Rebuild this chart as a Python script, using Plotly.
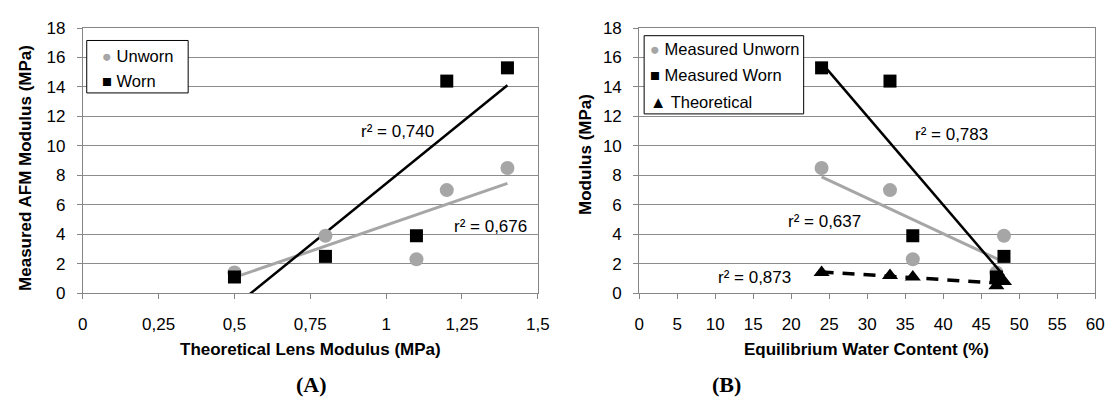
import numpy as np
import plotly.graph_objects as go

# ---------------- data ----------------
theo_modulus = [0.5, 0.8, 1.1, 1.2, 1.4]
ewc = [47, 48, 36, 33, 24]
unworn = [1.4, 3.9, 2.3, 7.0, 8.5]
worn = [1.1, 2.5, 3.9, 14.4, 15.3]
theoretical = [0.5, 0.8, 1.1, 1.2, 1.4]

legend_a = ["Unworn", "Worn"]
legend_b = ["Measured Unworn", "Measured Worn", "Theoretical"]
r2_labels_a = ["r² = 0,740", "r² = 0,676"]
r2_labels_b = ["r² = 0,783", "r² = 0,637", "r² = 0,873"]

xa_tickvals = [0, 0.25, 0.5, 0.75, 1, 1.25, 1.5]
xa_ticktext = ["0", "0,25", "0,5", "0,75", "1", "1,25", "1,5"]
xb_tickvals = list(range(0, 61, 5))
y_tickvals = list(range(0, 19, 2))

GREY = "#a6a6a6"
FONT = "Liberation Sans, Arial, sans-serif"
SERIF = "Liberation Serif, Times New Roman, serif"
FS = 17
LFS = 16.5


def fit_line(x, y):
    x = np.asarray(x, float)
    y = np.asarray(y, float)
    k, b = np.polyfit(x, y, 1)
    xs = np.array([x.min(), x.max()])
    return xs, k * xs + b


fig = go.Figure()

# ---------- chart A ----------
xs, ys = fit_line(theo_modulus, unworn)
fig.add_trace(go.Scatter(x=xs, y=ys, mode="lines", line=dict(color=GREY, width=3),
                         showlegend=False, xaxis="x", yaxis="y", hoverinfo="skip"))
xs, ys = fit_line(theo_modulus, worn)
fig.add_trace(go.Scatter(x=xs, y=ys, mode="lines", line=dict(color="black", width=2.5),
                         showlegend=False, xaxis="x", yaxis="y", hoverinfo="skip"))
fig.add_trace(go.Scatter(x=theo_modulus, y=unworn, mode="markers", name=legend_a[0],
                         marker=dict(symbol="circle", size=14, color=GREY), showlegend=False,
                         xaxis="x", yaxis="y", cliponaxis=False))
fig.add_trace(go.Scatter(x=theo_modulus, y=worn, mode="markers", name=legend_a[1],
                         marker=dict(symbol="square", size=13, color="black"), showlegend=False,
                         xaxis="x", yaxis="y", cliponaxis=False))

# ---------- chart B ----------
xs, ys = fit_line(ewc, unworn)
fig.add_trace(go.Scatter(x=xs, y=ys, mode="lines", line=dict(color=GREY, width=3),
                         showlegend=False, xaxis="x2", yaxis="y2", hoverinfo="skip"))
xs, ys = fit_line(ewc, theoretical)
fig.add_trace(go.Scatter(x=xs, y=ys, mode="lines",
                         line=dict(color="black", width=3.5, dash="12px,9px"),
                         showlegend=False, xaxis="x2", yaxis="y2", hoverinfo="skip"))
fig.add_trace(go.Scatter(x=ewc, y=unworn, mode="markers", name=legend_b[0],
                         marker=dict(symbol="circle", size=14, color=GREY), showlegend=False,
                         xaxis="x2", yaxis="y2", cliponaxis=False))
fig.add_trace(go.Scatter(x=ewc, y=worn, mode="markers", name=legend_b[1],
                         marker=dict(symbol="square", size=13, color="black"), showlegend=False,
                         xaxis="x2", yaxis="y2", cliponaxis=False))
fig.add_trace(go.Scatter(x=ewc, y=theoretical, mode="markers", name=legend_b[2],
                         marker=dict(symbol="triangle-up", size=14, color="black"), showlegend=False,
                         xaxis="x2", yaxis="y2", cliponaxis=False))
xs, ys = fit_line(ewc, worn)
fig.add_trace(go.Scatter(x=xs, y=ys, mode="lines", line=dict(color="black", width=2.5),
                         showlegend=False, xaxis="x2", yaxis="y2", hoverinfo="skip"))

W, H = 1118, 410
ydom = [1 - 298 / H, 1 - 20 / H]

axis_common = dict(
    showline=True, linecolor="#868686", linewidth=1, mirror=True,
    gridcolor="#8c8c8c", gridwidth=1,
    ticks="outside", ticklen=5, tickcolor="#868686",
    tickfont=dict(family=FONT, size=FS, color="black"),
    zeroline=False, fixedrange=True,
)

fig.update_layout(
    width=W, height=H,
    margin=dict(l=0, r=0, t=0, b=0),
    paper_bgcolor="white", plot_bgcolor="white",
    font=dict(family=FONT, size=FS, color="black"),
    xaxis=dict(domain=[79 / W, 541 / W], range=[0, 1.5], tickvals=xa_tickvals,
               ticktext=xa_ticktext, anchor="y", ticklabelstandoff=10, showgrid=False, **axis_common),
    yaxis=dict(domain=ydom, range=[0, 18], tickvals=y_tickvals, anchor="x",
               ticklabelstandoff=8, showgrid=True, **axis_common),
    xaxis2=dict(domain=[644 / W, 1107 / W], range=[0, 60], tickvals=xb_tickvals,
                anchor="y2", ticklabelstandoff=10, showgrid=False, **axis_common),
    yaxis2=dict(domain=ydom, range=[0, 18], tickvals=y_tickvals, anchor="x2",
                ticklabelstandoff=8, showgrid=True, **axis_common),
    showlegend=False,
)

ann = []
shapes = []

# r² labels
for txt, (x, y) in zip(r2_labels_a, [(1.036, 11.0), (1.344, 4.53)]):
    ann.append(dict(x=x, y=y, xref="x", yref="y", text=txt, showarrow=False,
                    xanchor="center", yanchor="middle",
                    font=dict(family=FONT, size=FS, color="black")))
for txt, (x, y) in zip(r2_labels_b, [(41.1, 10.8), (24.4, 4.86), (15.2, 1.04)]):
    ann.append(dict(x=x, y=y, xref="x2", yref="y2", text=txt, showarrow=False,
                    xanchor="center", yanchor="middle",
                    font=dict(family=FONT, size=FS, color="black")))


def paper_text(px, py, text, size, family=FONT, angle=0, xanchor="center"):
    ann.append(dict(x=px / W, y=1 - py / H, xref="paper", yref="paper", showarrow=False,
                    xanchor=xanchor, yanchor="middle", textangle=angle,
                    text=text, font=dict(family=family, size=size, color="black")))


def legend_box(x0, y0, x1, y1, entries, glyph_x, rows):
    shapes.append(dict(type="rect", xref="paper", yref="paper",
                       x0=x0 / W, x1=x1 / W, y0=1 - y1 / H, y1=1 - y0 / H,
                       line=dict(color="black", width=1), fillcolor="white", layer="above"))
    for (name, glyph, color), ry in zip(entries, rows):
        paper_text(glyph_x, ry,
                   f"<span style='color:{color}'>{glyph}</span> {name}",
                   LFS, xanchor="left")


legend_box(83, 33, 186, 88,
           [(legend_a[0], "●", GREY), (legend_a[1], "■", "black")],
           96, [49, 76])
legend_box(649, 28, 811, 110,
           [(legend_b[0], "●", GREY), (legend_b[1], "■", "black"), (legend_b[2], "▲", "black")],
           653, [42, 69, 97])

# axis titles
paper_text(310, 357, "<b>Theoretical Lens Modulus (MPa)</b>", FS)
paper_text(875, 357, "<b>Equilibrium Water Content (%)</b>", FS)
paper_text(21, 167, "<b>Measured AFM Modulus (MPa)</b>", FS, angle=-90)
paper_text(590, 153, "<b>Modulus (MPa)</b>", FS, angle=-90)
# panel labels
paper_text(311, 394, "<b>(A)</b>", 22, family=SERIF)
paper_text(733, 394, "<b>(B)</b>", 22, family=SERIF)

fig.update_layout(annotations=ann, shapes=shapes)

fig.write_html("out.html", config={"displayModeBar": False},
               post_script="document.body.style.margin='0px';document.body.style.overflow='hidden';")
